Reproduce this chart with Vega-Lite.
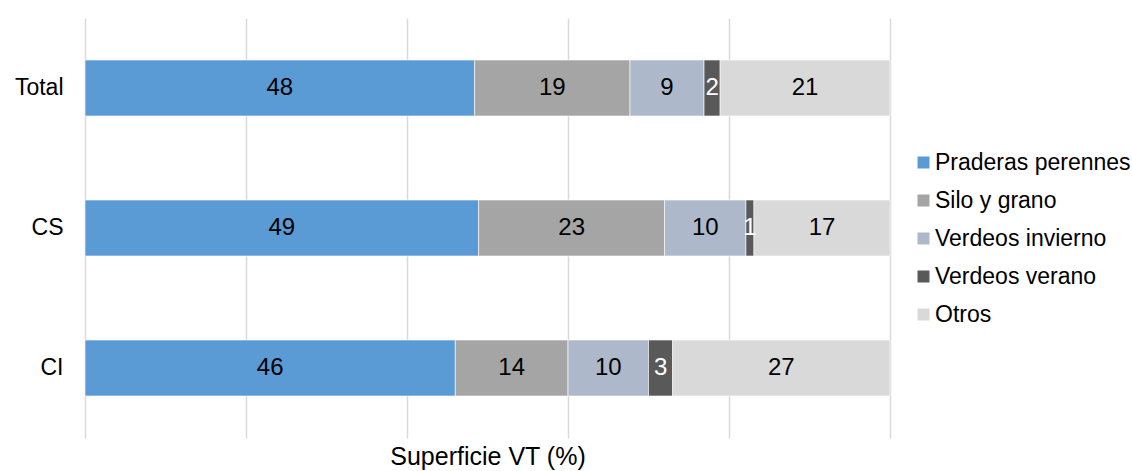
{
  "$schema": "https://vega.github.io/schema/vega-lite/v6.json",
  "width": 805,
  "height": 420,
  "autosize": {"type": "none"},
  "padding": {"left": 85, "top": 18, "right": 242, "bottom": 33},
  "background": "white",
  "config": {
    "view": {"stroke": null},
    "font": "Liberation Sans",
    "axis": {"labelFont": "Liberation Sans", "titleFont": "Liberation Sans"},
    "legend": {"labelFont": "Liberation Sans"}
  },
  "data": {
    "values": [
      {"grupo": "Total", "tipo": "Praderas perennes", "k": 1, "valor": 48.4},
      {"grupo": "Total", "tipo": "Silo y grano", "k": 2, "valor": 19.3},
      {"grupo": "Total", "tipo": "Verdeos invierno", "k": 3, "valor": 9.2},
      {"grupo": "Total", "tipo": "Verdeos verano", "k": 4, "valor": 2.0},
      {"grupo": "Total", "tipo": "Otros", "k": 5, "valor": 21.1},
      {"grupo": "CS", "tipo": "Praderas perennes", "k": 1, "valor": 48.9},
      {"grupo": "CS", "tipo": "Silo y grano", "k": 2, "valor": 23.1},
      {"grupo": "CS", "tipo": "Verdeos invierno", "k": 3, "valor": 10.1},
      {"grupo": "CS", "tipo": "Verdeos verano", "k": 4, "valor": 1.0},
      {"grupo": "CS", "tipo": "Otros", "k": 5, "valor": 16.9},
      {"grupo": "CI", "tipo": "Praderas perennes", "k": 1, "valor": 46},
      {"grupo": "CI", "tipo": "Silo y grano", "k": 2, "valor": 14},
      {"grupo": "CI", "tipo": "Verdeos invierno", "k": 3, "valor": 10},
      {"grupo": "CI", "tipo": "Verdeos verano", "k": 4, "valor": 3},
      {"grupo": "CI", "tipo": "Otros", "k": 5, "valor": 27}
    ]
  },
  "transform": [
    {"stack": "valor", "groupby": ["grupo"], "sort": [{"field": "k", "order": "ascending"}], "as": ["x0", "x1"]},
    {"calculate": "(datum.x0 + datum.x1) / 2", "as": "xm"}
  ],
  "encoding": {
    "y": {
      "field": "grupo",
      "type": "nominal",
      "sort": ["Total", "CS", "CI"],
      "scale": {"paddingInner": 0.6, "paddingOuter": 0.3},
      "axis": {"title": null, "ticks": false, "domain": false, "labelFontSize": 23, "labelColor": "#000000", "labelPadding": 22}
    }
  },
  "layer": [
    {
      "mark": {"type": "bar", "stroke": "white", "strokeWidth": 0.6},
      "encoding": {
        "x": {
          "field": "x0",
          "type": "quantitative",
          "scale": {"domain": [0, 100], "nice": false},
          "axis": {
            "title": "Superficie VT (%)",
            "titleFontSize": 25,
            "titleFontWeight": "normal",
            "titleColor": "#000000",
            "titlePadding": 6,
            "labels": false,
            "ticks": false,
            "domain": false,
            "grid": true,
            "gridColor": "#d9d9d9",
            "gridWidth": 1.5,
            "values": [0, 20, 40, 60, 80, 100]
          }
        },
        "x2": {"field": "x1"},
        "color": {
          "field": "tipo",
          "type": "nominal",
          "scale": {
            "domain": ["Praderas perennes", "Silo y grano", "Verdeos invierno", "Verdeos verano", "Otros"],
            "range": ["#5b9bd5", "#a5a5a5", "#adb9ca", "#595959", "#d9d9d9"]
          },
          "legend": {
            "title": null,
            "orient": "none",
            "legendX": 827,
            "legendY": 133,
            "symbolType": "square",
            "symbolSize": 144,
            "symbolStrokeWidth": 0,
            "labelFontSize": 23,
            "labelColor": "#000000",
            "labelOffset": 0,
            "rowPadding": 14,
            "labelLimit": 300
          }
        }
      }
    },
    {
      "mark": {"type": "text", "fontSize": 24, "align": "center", "baseline": "middle"},
      "encoding": {
        "x": {"field": "xm", "type": "quantitative"},
        "text": {"field": "valor", "type": "quantitative", "format": ".0f"},
        "color": {
          "condition": {"test": "datum.tipo === 'Verdeos verano'", "value": "#ffffff"},
          "value": "#000000"
        }
      }
    }
  ]
}
